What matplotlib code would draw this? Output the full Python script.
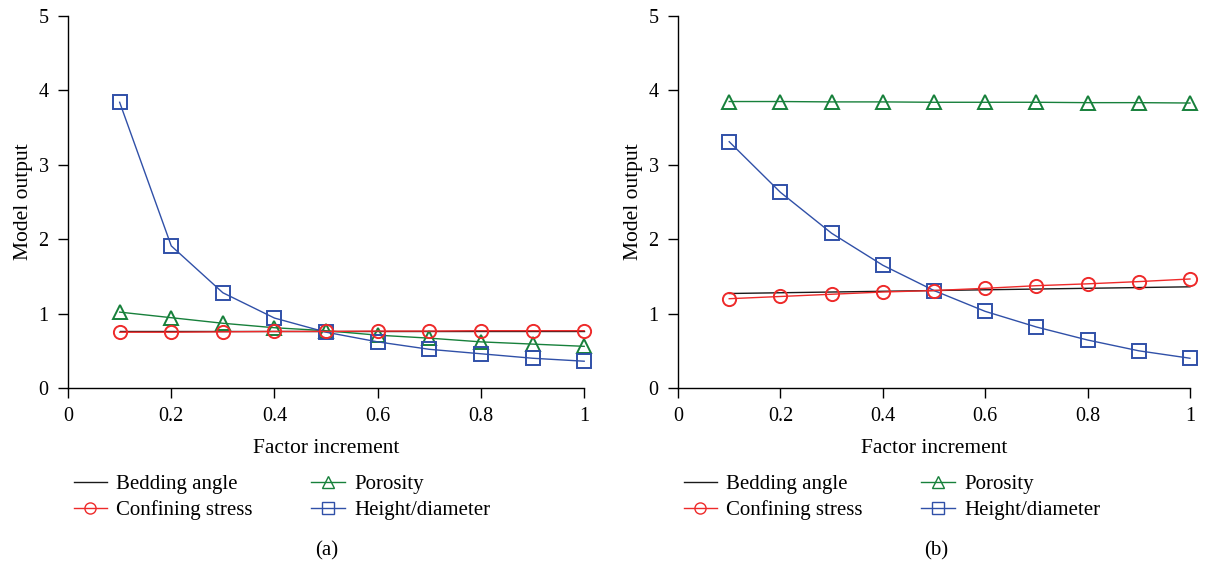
import matplotlib
matplotlib.use("Agg")
from matplotlib import pyplot as plt
from matplotlib.lines import Line2D

plt.rcParams['font.family'] = ['Liberation Serif', 'DejaVu Serif']

factor = [0.1, 0.2, 0.3, 0.4, 0.5, 0.6, 0.7, 0.8, 0.9, 1.0]

# panel (a)
bedding_a = [0.76, 0.76, 0.76, 0.76, 0.76, 0.76, 0.76, 0.76, 0.76, 0.76]
confining_a = [0.75, 0.75, 0.755, 0.76, 0.76, 0.765, 0.765, 0.77, 0.77, 0.77]
porosity_a = [1.02, 0.945, 0.87, 0.81, 0.77, 0.71, 0.67, 0.62, 0.59, 0.56]
height_a = [3.84, 1.91, 1.28, 0.94, 0.75, 0.62, 0.52, 0.46, 0.40, 0.36]

# panel (b)
bedding_b = [1.27, 1.28, 1.29, 1.30, 1.31, 1.32, 1.33, 1.34, 1.35, 1.36]
confining_b = [1.20, 1.23, 1.26, 1.29, 1.31, 1.34, 1.375, 1.40, 1.43, 1.465]
porosity_b = [3.85, 3.85, 3.845, 3.845, 3.84, 3.84, 3.84, 3.835, 3.835, 3.83]
height_b = [3.31, 2.63, 2.08, 1.65, 1.31, 1.03, 0.82, 0.645, 0.50, 0.40]

xticks = [0, 0.2, 0.4, 0.6, 0.8, 1]
xticklabels = ['0', '0.2', '0.4', '0.6', '0.8', '1']
yticks = [0, 1, 2, 3, 4, 5]

black = '#1a1a1a'
red = '#ee2a2a'
green = '#17803b'
blue = '#3050a8'

fig = plt.figure(figsize=(12.06, 5.62), dpi=100)
ax_a = fig.add_axes([0.0564, 0.3096, 0.428, 0.662])
ax_b = fig.add_axes([0.5622, 0.3096, 0.4245, 0.662])

mk = dict(markersize=9.5, markerfacecolor='none', markeredgewidth=1.4, linewidth=1.0)

def draw(ax, bedding, confining, porosity, height, tag, xc):
    ax.plot(factor, bedding, color=black, linewidth=1.0)
    ax.plot(factor, porosity, color=green, marker='^', **mk)
    ax.plot(factor, height, color=blue, marker='s', **mk)
    ax.plot(factor, confining, color=red, marker='o', **mk)
    ax.set_xlim(0, 1)
    ax.set_ylim(0, 5)
    ax.set_xticks(xticks)
    ax.set_xticklabels(xticklabels)
    ax.set_yticks(yticks)
    ax.spines['top'].set_visible(False)
    ax.spines['right'].set_visible(False)
    ax.tick_params(direction='out', length=7, width=1, labelsize=14.5, pad=7)
    for s in ax.spines.values():
        s.set_linewidth(1.0)
    for ln in ax.lines:
        ln.set_clip_on(False)
    ax.set_xlabel('Factor increment', fontsize=15.5, labelpad=9)
    ax.set_ylabel('Model output', fontsize=15.5, labelpad=4)

    handles = [
        Line2D([], [], color=black, linewidth=1.0),
        Line2D([], [], color=red, marker='o', markersize=8, markerfacecolor='none', markeredgewidth=1.0, linewidth=1.0),
        Line2D([], [], color=green, marker='^', markersize=8, markerfacecolor='none', markeredgewidth=1.0, linewidth=1.0),
        Line2D([], [], color=blue, marker='s', markersize=8, markerfacecolor='none', markeredgewidth=1.0, linewidth=1.0),
    ]
    labels = ['Bedding angle', 'Confining stress', 'Porosity', 'Height/diameter']
    ax.legend(handles, labels, loc='upper left', bbox_to_anchor=(-0.005, -0.21), ncol=2,
              frameon=False, fontsize=15, handlelength=1.6, handletextpad=0.45,
              columnspacing=2.8, labelspacing=0.3, borderaxespad=0)
    fig.text(xc, 0.02, tag, ha='center', va='center', fontsize=15)

draw(ax_a, bedding_a, confining_a, porosity_a, height_a, '(a)', 0.271)
draw(ax_b, bedding_b, confining_b, porosity_b, height_b, '(b)', 0.776)

fig.savefig('out.png', dpi=100)
